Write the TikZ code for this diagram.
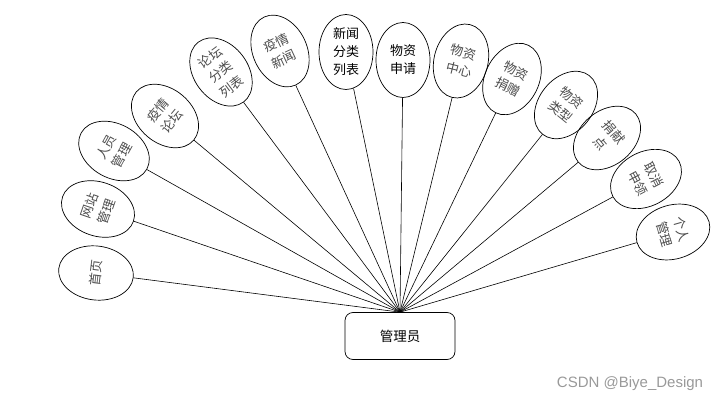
\documentclass[tikz,border=0pt]{standalone}
\usepackage{fontspec}
\newfontfamily\cjkfont{Noto Sans CJK SC}
\setsansfont{Liberation Sans}
\usetikzlibrary{shapes.geometric}
\tikzset{
  item/.style={draw, ellipse, line width=0.7pt, minimum width=54pt,
    minimum height=75pt, inner sep=0pt, align=center,
    font=\cjkfont\fontsize{13}{18}\selectfont},
  admin/.style={draw, rounded corners=8pt, line width=0.7pt,
    minimum width=110pt, minimum height=47pt,
    font=\cjkfont\fontsize{13.5}{15}\selectfont},
  link/.style={line width=0.6pt}
}
\begin{document}
\begin{tikzpicture}[x=1pt,y=1pt]
  \useasboundingbox (0,0) rectangle (720,402);
  \node[admin] (root) at (400,66) {管理员};
  \foreach \n/\x/\y/\a/\c/\t in {
    sy/96/129/83/black!70/首页,
    wzgl/98/193/71/black!70/网站\\管理,
    rygl/114/251/61/black!70/人员\\管理,
    yqlt/165/286/50/black!70/疫情\\论坛,
    ltfl/221/330/37/black!70/论坛\\分类\\列表,
    yqxw/280/351/25/black!70/疫情\\新闻,
    xwfl/346/350/0/black/新闻\\分类\\列表,
    wzsq/403/342/0/black/物资\\申请,
    wzzx/461/341/-14/black!70/物资\\中心,
    wzjz/512/323/-26/black!70/物资\\捐赠,
    wzlx/566/297/-39/black!70/物资\\类型,
    jxd/607/264/-50/black!70/捐献\\点,
    qxsl/646/223/-62/black!70/取消\\申领,
    grgl/673/170/-74/black!70/个人\\管理}
  {
    \node[item, rotate=\a, text=\c] (\n) at (\x,\y) {\t};
    \draw[link] (root.north) -- (\n);
  }
  \node[text=black!40, font=\sffamily\fontsize{15}{17}\selectfont] (mark) at (630,18) {CSDN @Biye\_Design};
\end{tikzpicture}
\end{document}
